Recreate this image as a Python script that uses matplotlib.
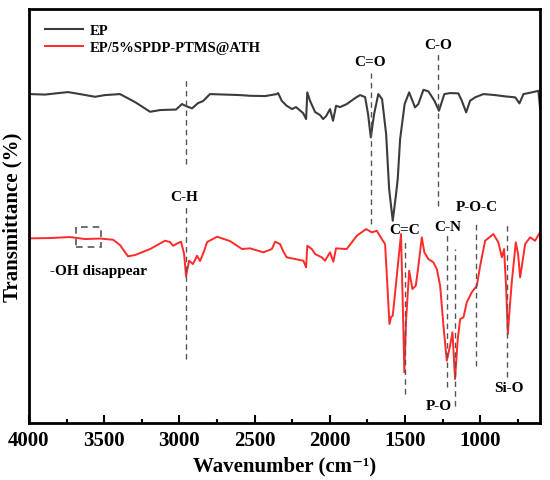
import matplotlib
matplotlib.use('Agg')
import matplotlib.pyplot as plt
from matplotlib.patches import Rectangle
from matplotlib.ticker import MultipleLocator

plt.rcParams['font.family'] = ['Liberation Serif', 'DejaVu Serif']
plt.rcParams['font.weight'] = 'bold'

# EP spectrum (wavenumber cm-1, transmittance, arbitrary units)
ep_wn = [3993, 3894, 3741, 3661, 3561, 3495, 3395, 3295, 3195, 3129, 3076, 3023,
         2983, 2956, 2916, 2876, 2843, 2797, 2597, 2531, 2431, 2353, 2344, 2320,
         2287, 2251, 2225, 2178, 2158, 2150, 2132, 2098, 2065, 2045, 2025, 1999,
         1979, 1959, 1932, 1888, 1832, 1799, 1766, 1746, 1728, 1706, 1678, 1653,
         1626, 1606, 1582, 1560, 1549, 1533, 1503, 1473, 1434, 1412, 1378, 1345,
         1305, 1275, 1239, 1201, 1146, 1123, 1094, 1068, 1035, 979, 902, 835,
         767, 740, 713, 658, 614, 602]
ep_t = [329, 328.5, 331, 329, 326.3, 328, 329, 321, 311.3, 313, 313.3, 313.5,
        319, 317, 314.7, 320, 322, 329, 328, 327.3, 327, 329, 330, 322.3,
        317.3, 314, 316, 310, 304, 330.7, 322.3, 311, 308, 304, 307, 314,
        302.3, 317.3, 316, 319, 325, 328, 326, 309, 285.7, 309, 329, 324,
        289, 234, 202.3, 229, 244, 284, 319, 330.7, 315.7, 319, 333.3, 331.7,
        322.3, 312.3, 329, 330, 329.7, 322.3, 310.7, 322.3, 325.7, 329, 328, 326.7,
        325.7, 319.7, 329, 330.7, 332.3, 314]

# EP/5%SPDP-PTMS@ATH spectrum
mod_wn = [3993, 3860, 3727, 3628, 3528, 3441, 3395, 3342, 3295, 3195, 3096, 3062,
          3043, 3009, 2989, 2969, 2956, 2936, 2910, 2883, 2863, 2836, 2816, 2750,
          2664, 2584, 2531, 2442, 2386, 2364, 2331, 2311, 2287, 2231, 2176, 2158,
          2150, 2120, 2098, 2054, 2032, 1999, 1977, 1959, 1888, 1821, 1759, 1721,
          1688, 1655, 1633, 1620, 1604, 1593, 1582, 1555, 1527, 1513, 1505, 1493,
          1473, 1451, 1429, 1414, 1389, 1372, 1345, 1312, 1289, 1267, 1245, 1223,
          1201, 1185, 1168, 1150, 1134, 1112, 1090, 1057, 1023, 1001, 968, 913,
          880, 857, 842, 828, 817, 805, 791, 764, 749, 735, 702, 669, 636, 602]
mod_t = [184.7, 185, 186, 184, 184.5, 183.3, 178, 166.7, 168, 174, 182.3, 181,
         177.3, 180, 181.3, 169, 146.7, 162.3, 159, 167.3, 162, 172, 181, 186.3,
         182, 174, 174.7, 170.7, 174, 181.3, 179, 172, 165.7, 164, 162.3, 155.7,
         177.3, 174, 169, 165.7, 162.3, 170.7, 161.3, 174.7, 174, 187.3, 194, 190.7,
         192.3, 184, 179, 144, 99, 106, 107.3, 147.3, 189, 104, 50.7, 104,
         152.3, 134, 137.3, 154, 185.7, 170.7, 164, 160.7, 154, 137.3, 97.3, 62.3,
         77.3, 90.7, 44, 84, 104, 105.7, 120.7, 130.7, 137.3, 157.3, 182.3, 189,
         180.7, 165.7, 174, 134, 89, 114, 140.7, 180.7, 169, 145.7, 179, 185.7, 182.3, 191]

# band marker lines: wavenumber, lower end, upper end
band_wn = [2956, 2956, 1728, 1281, 1500, 1219, 1168, 1028, 820]
band_lo = [259, 64, 199, 217, 29, 36, 17, 57, 46]
band_hi = [345, 217, 350, 372, 184, 191, 174, 201, 201]

# band labels
labels = ['C-H', 'C=O', 'C-O', 'C=C', 'C-N', 'P-O-C', 'P-O', 'Si-O', '-OH disappear']
label_x = [2969, 1733, 1281, 1500, 1214, 1023, 1274, 810, 3541]
label_y = [227, 362, 379, 194, 197, 217, 18, 36, 153]

fig = plt.figure(figsize=(5.5, 4.81), dpi=100)
ax = fig.add_axes([0.0527, 0.1185, 0.93, 0.8605])

ax.plot(ep_wn, ep_t, color='#3c3c3c', lw=1.5, label='EP')
ax.plot(mod_wn, mod_t, color='#ff2a2a', lw=1.4, label='EP/5%SPDP-PTMS@ATH')

for w, lo, hi in zip(band_wn, band_lo, band_hi):
    ax.plot([w, w], [lo, hi], color='#555555', lw=1, ls=(0, (4, 3)))

for t, x, y in zip(labels, label_x, label_y):
    ax.text(x, y, t, ha='center', va='center', fontsize=11, fontweight='bold')

ax.add_patch(Rectangle((3690, 176), -166, 20, fill=False, ec='#555555',
                       lw=1.2, ls=(0, (4, 3))))

ax.set_xlim(4000, 600)
ax.set_ylim(0, 414)
ax.xaxis.set_major_locator(MultipleLocator(500))
ax.xaxis.set_minor_locator(MultipleLocator(250))
ax.tick_params(axis='x', which='major', direction='in', length=6, width=1.5,
               labelsize=15, pad=5, top=False)
ax.tick_params(axis='x', which='minor', direction='in', length=3, width=1.5, top=False)
ax.set_yticks([])
for sp in ax.spines.values():
    sp.set_linewidth(2)

ax.set_xlabel('Wavenumber (cm⁻¹)', fontsize=15, fontweight='bold')
ax.set_ylabel('Transmittance (%)', fontsize=15, fontweight='bold')
ax.yaxis.set_label_coords(-0.012, 0.5)
ax.xaxis.set_label_coords(0.5, -0.078)

ax.legend(loc='upper left', bbox_to_anchor=(0.031, 0.965), frameon=False,
          fontsize=10.5, handlelength=2.6, handletextpad=0.5, labelspacing=0.3,
          borderpad=0, borderaxespad=0)

fig.savefig('out.png', dpi=100)
